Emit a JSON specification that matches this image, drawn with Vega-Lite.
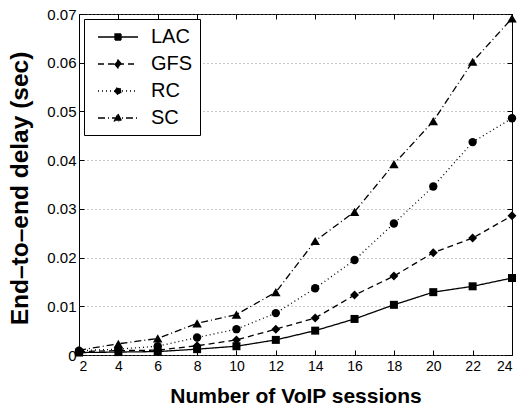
{
  "$schema": "https://vega.github.io/schema/vega-lite/v6.json",
  "autosize": {"type": "none"},
  "width": 433,
  "height": 341,
  "padding": {"left": 79, "top": 14, "right": 9, "bottom": 52},
  "background": "white",
  "config": {
    "view": {"stroke": "black", "strokeWidth": 1},
    "font": "Liberation Sans",
    "axis": {
      "domain": false,
      "tickColor": "black",
      "tickSize": -5,
      "labelColor": "black",
      "labelFont": "Liberation Sans",
      "labelFontSize": 14,
      "titleFont": "Liberation Sans",
      "titleFontWeight": "bold",
      "titleColor": "black",
      "titleFontSize": 21
    }
  },
  "data": {
    "values": [
      {"sessions": 2, "scheme": "LAC", "delay": 0.0005},
      {"sessions": 4, "scheme": "LAC", "delay": 0.0006},
      {"sessions": 6, "scheme": "LAC", "delay": 0.0007},
      {"sessions": 8, "scheme": "LAC", "delay": 0.0012},
      {"sessions": 10, "scheme": "LAC", "delay": 0.0018},
      {"sessions": 12, "scheme": "LAC", "delay": 0.0031},
      {"sessions": 14, "scheme": "LAC", "delay": 0.005},
      {"sessions": 16, "scheme": "LAC", "delay": 0.0074},
      {"sessions": 18, "scheme": "LAC", "delay": 0.0103},
      {"sessions": 20, "scheme": "LAC", "delay": 0.0129},
      {"sessions": 22, "scheme": "LAC", "delay": 0.0141},
      {"sessions": 24, "scheme": "LAC", "delay": 0.0158},
      {"sessions": 2, "scheme": "GFS", "delay": 0.0007},
      {"sessions": 4, "scheme": "GFS", "delay": 0.0009},
      {"sessions": 6, "scheme": "GFS", "delay": 0.001},
      {"sessions": 8, "scheme": "GFS", "delay": 0.0019},
      {"sessions": 10, "scheme": "GFS", "delay": 0.0031},
      {"sessions": 12, "scheme": "GFS", "delay": 0.0053},
      {"sessions": 14, "scheme": "GFS", "delay": 0.0076},
      {"sessions": 16, "scheme": "GFS", "delay": 0.0123},
      {"sessions": 18, "scheme": "GFS", "delay": 0.0162},
      {"sessions": 20, "scheme": "GFS", "delay": 0.021},
      {"sessions": 22, "scheme": "GFS", "delay": 0.024},
      {"sessions": 24, "scheme": "GFS", "delay": 0.0286},
      {"sessions": 2, "scheme": "RC", "delay": 0.0009},
      {"sessions": 4, "scheme": "RC", "delay": 0.0012},
      {"sessions": 6, "scheme": "RC", "delay": 0.0018},
      {"sessions": 8, "scheme": "RC", "delay": 0.0036},
      {"sessions": 10, "scheme": "RC", "delay": 0.0053},
      {"sessions": 12, "scheme": "RC", "delay": 0.0086},
      {"sessions": 14, "scheme": "RC", "delay": 0.0137},
      {"sessions": 16, "scheme": "RC", "delay": 0.0195},
      {"sessions": 18, "scheme": "RC", "delay": 0.027},
      {"sessions": 20, "scheme": "RC", "delay": 0.0346},
      {"sessions": 22, "scheme": "RC", "delay": 0.0437},
      {"sessions": 24, "scheme": "RC", "delay": 0.0486},
      {"sessions": 2, "scheme": "SC", "delay": 0.001},
      {"sessions": 4, "scheme": "SC", "delay": 0.0023},
      {"sessions": 6, "scheme": "SC", "delay": 0.0034},
      {"sessions": 8, "scheme": "SC", "delay": 0.0065},
      {"sessions": 10, "scheme": "SC", "delay": 0.0083},
      {"sessions": 12, "scheme": "SC", "delay": 0.0129},
      {"sessions": 14, "scheme": "SC", "delay": 0.0234},
      {"sessions": 16, "scheme": "SC", "delay": 0.0294},
      {"sessions": 18, "scheme": "SC", "delay": 0.0392},
      {"sessions": 20, "scheme": "SC", "delay": 0.048},
      {"sessions": 22, "scheme": "SC", "delay": 0.0602},
      {"sessions": 24, "scheme": "SC", "delay": 0.0691}
    ]
  },
  "layer": [
    {
      "mark": {"type": "line", "color": "black", "strokeWidth": 1.3},
      "encoding": {
        "x": {
          "field": "sessions", "type": "quantitative",
          "scale": {"domain": [2, 24], "nice": false, "zero": false},
          "axis": {
            "orient": "bottom", "values": [2,4,6,8,10,12,14,16,18,20,22,24],
            "grid": false, "labelPadding": 9,
            "title": "Number of VoIP sessions",
            "titleBaseline": "alphabetic", "titleY": 47
          }
        },
        "y": {
          "field": "delay", "type": "quantitative",
          "scale": {"domain": [0, 0.07], "nice": false},
          "axis": {
            "orient": "left", "values": [0,0.01,0.02,0.03,0.04,0.05,0.06,0.07],
            "format": ".2~f", "labelPadding": 8, "labelFontSize": 15,
            "grid": true, "gridColor": "#777", "gridDash": [1, 3], "gridWidth": 0.8,
            "title": "End–to–end delay (sec)", "titleFontSize": 24.5,
            "titleBaseline": "alphabetic", "titleX": -52, "titleY": 174
          }
        },
        "strokeDash": {
          "field": "scheme", "type": "nominal",
          "scale": {"domain": ["LAC", "GFS", "RC", "SC"], "range": [[1, 0], [6, 4], [1, 3], [7, 3, 1, 3]]},
          "legend": {
            "orient": "none", "legendX": 5, "legendY": 5,
            "title": null,
            "strokeColor": "black", "fillColor": "white", "cornerRadius": 0,
            "padding": 7,
            "labelFont": "Liberation Sans", "labelFontSize": 20, "labelColor": "black",
            "labelExpr": "datum.label + '  '",
            "symbolSize": 400, "symbolStrokeWidth": 1.3, "symbolStrokeColor": "black",
            "symbolOffset": 16, "labelOffset": 22, "rowPadding": 6,
            "encode": {
              "symbols": {
                "update": {
                  "fill": {"value": "black"},
                  "stroke": {"value": "black"},
                  "shape": {"signal": "datum.value === 'LAC' ? 'M-2,0L2,0M-0.3,-0.3L0.3,-0.3L0.3,0.3L-0.3,0.3Z' : datum.value === 'GFS' ? 'M-2,0L2,0M0,-0.4L0.34,0L0,0.4L-0.34,0Z' : datum.value === 'RC' ? 'M-2,0L2,0M-0.33,0A0.33,0.33,0,1,0,0.33,0A0.33,0.33,0,1,0,-0.33,0Z' : 'M-2,0L2,0M0,-0.4L0.36,0.28L-0.36,0.28Z'"}
                }
              }
            }
          }
        }
      }
    },
    {
      "transform": [{"filter": "datum.scheme === 'LAC'"}],
      "mark": {"type": "point", "shape": "square", "filled": true, "color": "black", "opacity": 1, "size": 64},
      "encoding": {
        "x": {
          "field": "sessions", "type": "quantitative",
          "axis": {"orient": "top", "values": [2,4,6,8,10,12,14,16,18,20,22,24], "labels": false, "title": null, "grid": false}
        },
        "y": {
          "field": "delay", "type": "quantitative",
          "axis": {"orient": "right", "values": [0,0.01,0.02,0.03,0.04,0.05,0.06,0.07], "labels": false, "title": null, "grid": false}
        }
      }
    },
    {
      "transform": [{"filter": "datum.scheme === 'GFS'"}],
      "mark": {"type": "point", "shape": "diamond", "filled": true, "color": "black", "opacity": 1, "size": 80},
      "encoding": {
        "x": {"field": "sessions", "type": "quantitative", "axis": null},
        "y": {"field": "delay", "type": "quantitative", "axis": null}
      }
    },
    {
      "transform": [{"filter": "datum.scheme === 'RC'"}],
      "mark": {"type": "point", "shape": "circle", "filled": true, "color": "black", "opacity": 1, "size": 70},
      "encoding": {
        "x": {"field": "sessions", "type": "quantitative", "axis": null},
        "y": {"field": "delay", "type": "quantitative", "axis": null}
      }
    },
    {
      "transform": [{"filter": "datum.scheme === 'SC'"}],
      "mark": {"type": "point", "shape": "triangle-up", "filled": true, "color": "black", "opacity": 1, "size": 90},
      "encoding": {
        "x": {"field": "sessions", "type": "quantitative", "axis": null},
        "y": {"field": "delay", "type": "quantitative", "axis": null}
      }
    }
  ]
}
